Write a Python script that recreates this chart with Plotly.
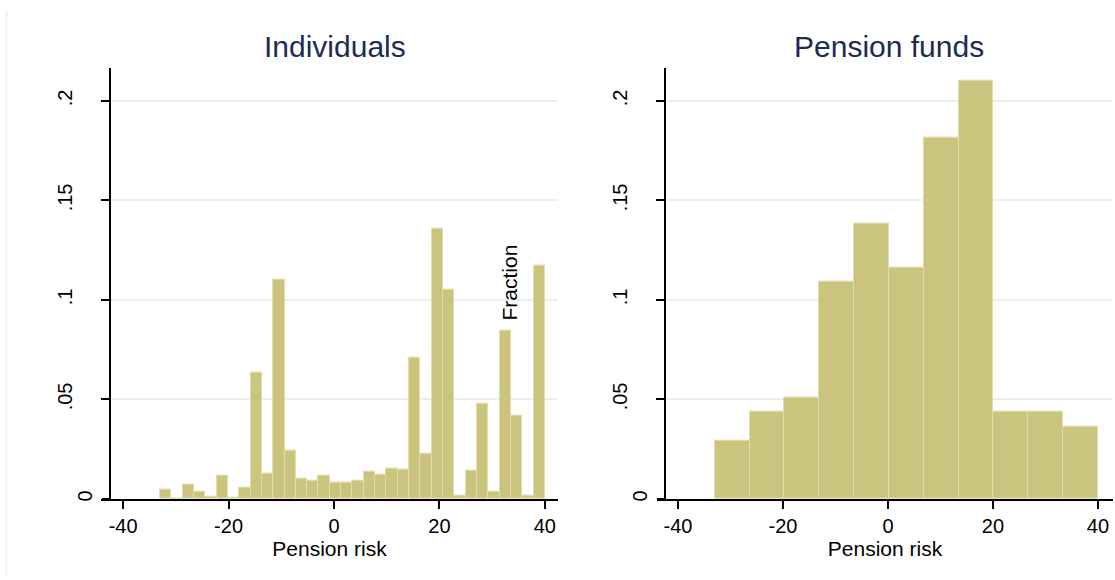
import plotly.graph_objects as go

# ---------------- data ----------------
panel_titles = ["Individuals", "Pension funds"]
x_label = "Pension risk"
y_label = "Fraction"
x_ticks = [-40, -20, 0, 20, 40]
y_ticks = [0.05, 0.1, 0.15, 0.2]
y_tick_text = [".05", ".1", ".15", ".2"]
y_zero_tick = [0]
y_zero_text = ["0"]

bin_min = -33.0
bin_max = 40.0

individuals_fraction = [
    0.0046, 0.0, 0.0071, 0.0034, 0.0012, 0.0116, 0.0007, 0.0056, 0.0637, 0.0129,
    0.1100, 0.0244, 0.0104, 0.0094, 0.0119, 0.0084, 0.0084, 0.0091, 0.0137, 0.0121,
    0.0154, 0.0149, 0.0709, 0.0227, 0.1359, 0.1051, 0.0016, 0.0144, 0.0477, 0.0036,
    0.0846, 0.0419, 0.0016, 0.1174,
]
funds_fraction = [
    0.0295, 0.0437, 0.0510, 0.1090, 0.1383, 0.1163, 0.1817, 0.2104, 0.0437, 0.0437, 0.0365,
]

# ---------------- helpers ----------------
W, H = 1115, 580
FONT = "Liberation Sans, Arial, sans-serif"
BAR_FILL = "#cbc47f"
BAR_EDGE = "#e1dcaa"
GRID = "#e8f0f1"
TITLE_COL = "#1c2a55"


def centers(values):
    n = len(values)
    w = (bin_max - bin_min) / n
    return [bin_min + w * (i + 0.5) for i in range(n)], w


def px_x(p):
    return p / W


def px_y(p):
    return (H - p) / H


fig = go.Figure()

cx1, w1 = centers(individuals_fraction)
cx2, w2 = centers(funds_fraction)

fig.add_trace(go.Bar(x=cx1, y=individuals_fraction, width=[w1] * len(cx1),
                     marker=dict(color=BAR_FILL, line=dict(color=BAR_EDGE, width=1)),
                     xaxis="x", yaxis="y", showlegend=False, hoverinfo="x+y"))
fig.add_trace(go.Bar(x=cx2, y=funds_fraction, width=[w2] * len(cx2),
                     marker=dict(color=BAR_FILL, line=dict(color=BAR_EDGE, width=1)),
                     xaxis="x2", yaxis="y2", showlegend=False, hoverinfo="x+y"))
# empty helper traces so the overlay axes carrying the "0" label get drawn
fig.add_trace(go.Scatter(x=[None], y=[None], xaxis="x", yaxis="y3",
                         showlegend=False, hoverinfo="skip", mode="markers"))
fig.add_trace(go.Scatter(x=[None], y=[None], xaxis="x2", yaxis="y4",
                         showlegend=False, hoverinfo="skip", mode="markers"))

y_dom = [px_y(501.5), px_y(68)]
y_range = [0, (501.5 - 68) / 2000.0]

xcommon = dict(
    showline=True, linecolor="black", linewidth=1.5,
    ticks="outside", ticklen=8, tickwidth=1.5, tickcolor="black",
    tickvals=x_ticks, ticktext=[str(v) for v in x_ticks],
    showgrid=False, zeroline=False,
    tickfont=dict(family=FONT, size=20, color="black"),
    title=dict(text=x_label, font=dict(family=FONT, size=21, color="black"), standoff=2),
)
ycommon = dict(
    showline=True, linecolor="black", linewidth=1.5,
    ticks="outside", ticklen=8, tickwidth=1.5, tickcolor="black",
    tickvals=y_ticks, ticktext=y_tick_text, tickangle=-90,
    showgrid=True, gridcolor=GRID, gridwidth=1.5, zeroline=False,
    tickfont=dict(family=FONT, size=20, color="black"),
    range=y_range, domain=y_dom, anchor="free",
    ticklabelstandoff=21,
)
yzero = dict(
    showline=False, ticks="outside", ticklen=8, tickwidth=1.5, tickcolor="black",
    tickvals=y_zero_tick, ticktext=y_zero_text, tickangle=-90,
    showgrid=False, zeroline=False,
    tickfont=dict(family=FONT, size=20, color="black"),
    range=y_range, anchor="free", ticklabelstandoff=2,
)

fig.update_layout(
    width=W, height=H,
    margin=dict(l=0, r=0, t=0, b=0),
    paper_bgcolor="white", plot_bgcolor="white",
    bargap=0,
    font=dict(family=FONT, color="black"),
    xaxis=dict(domain=[px_x(101), px_x(558)], range=[-44.2, 42.5], anchor="y", **xcommon),
    yaxis=dict(position=px_x(110), **ycommon),
    xaxis2=dict(domain=[px_x(657), px_x(1113)], range=[-44.0, 42.86], anchor="y2", **xcommon),
    yaxis2=dict(position=px_x(665), **ycommon),
    yaxis3=dict(overlaying="y", position=px_x(110), **yzero),
    yaxis4=dict(overlaying="y2", position=px_x(665), **yzero),
)

# panel titles
fig.add_annotation(text=panel_titles[0], x=px_x(335), y=px_y(47), xref="paper", yref="paper",
                   xanchor="center", yanchor="middle",
                   showarrow=False, font=dict(family=FONT, size=30, color=TITLE_COL))
fig.add_annotation(text=panel_titles[1], x=px_x(889), y=px_y(47), xref="paper", yref="paper",
                   xanchor="center", yanchor="middle",
                   showarrow=False, font=dict(family=FONT, size=30, color=TITLE_COL))
# stray y-axis title
fig.add_annotation(text=y_label, x=px_x(510), y=px_y(284), xref="paper", yref="paper",
                   xanchor="center", yanchor="middle",
                   showarrow=False, textangle=-90, font=dict(family=FONT, size=21, color="black"))

# faint outer frame line on the left
fig.add_shape(type="line", xref="paper", yref="paper",
              x0=px_x(6.5), x1=px_x(6.5), y0=px_y(10), y1=0,
              line=dict(color="#e9f0f0", width=1.5))

fig.write_html("out.html", config={"displayModeBar": False},
               post_script="document.body.style.margin='0';document.body.style.overflow='hidden';")
